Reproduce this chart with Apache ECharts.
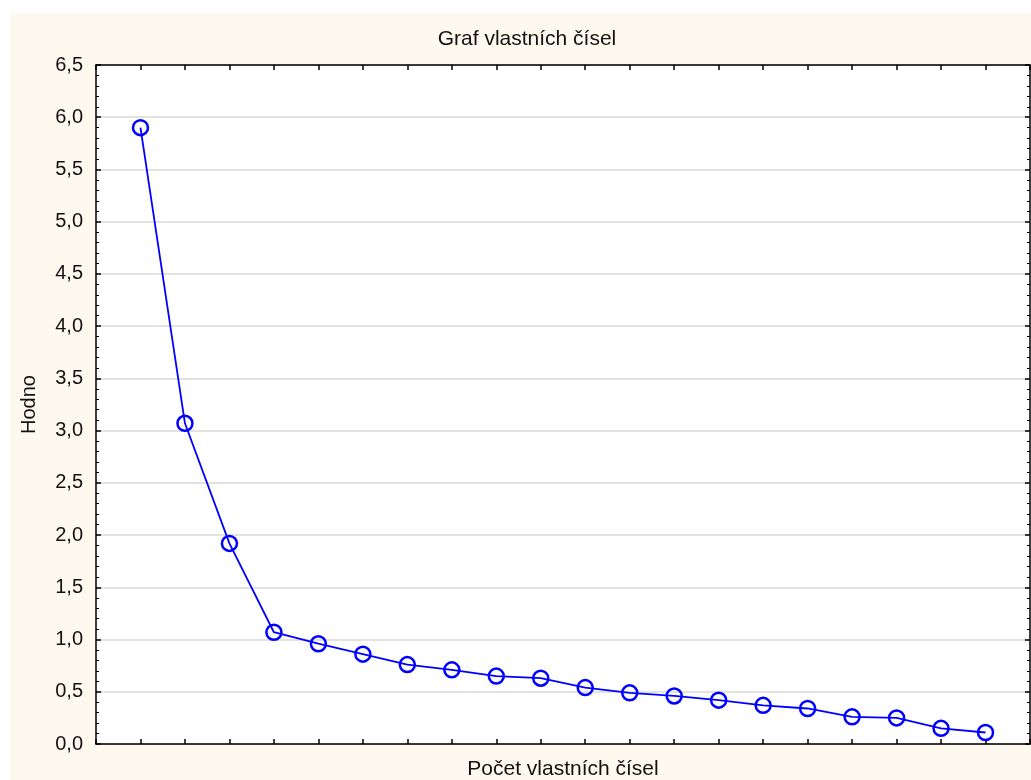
<!DOCTYPE html>
<html>
<head>
<meta charset="utf-8">
<script src="https://cdn.jsdelivr.net/npm/echarts@6/dist/echarts.min.js"></script>
<style>
html,body{margin:0;padding:0;background:#fff;}
#wrap{position:relative;width:1031px;height:780px;background:#fff;}
#cream{position:absolute;left:10px;top:13px;right:0;bottom:0;background:#fdf9ef;}
#plotbg{position:absolute;left:96px;top:65px;width:934px;height:679px;background:#fff;}
#chart{position:absolute;left:0;top:0;width:1031px;height:780px;}
</style>
</head>
<body>
<div id="wrap"><div id="cream"></div><div id="plotbg"></div><div id="chart"></div></div>
<script>
var titleText = 'Graf vlastních čísel';
var xName = 'Počet vlastních čísel';
var yName = 'Hodno';
var counts = [1,2,3,4,5,6,7,8,9,10,11,12,13,14,15,16,17,18,19,20];
var eigenvalues = [5.90,3.07,1.92,1.07,0.96,0.86,0.76,0.71,0.65,0.63,0.54,0.49,0.46,0.42,0.37,0.34,0.26,0.25,0.15,0.11];

var FONT = '"Liberation Sans", Arial, sans-serif';
var chart = echarts.init(document.getElementById('chart'), null, {renderer:'canvas'});
var data = counts.map(function(c,i){return [c, eigenvalues[i]];});
function xAx(pos){
  return {
    type:'value', position:pos, min:0, max:21, interval:1,
    axisLine:{show:true, onZero:false, lineStyle:{color:'#000', width:1.5}},
    axisTick:{show:true, inside:true, length:5, lineStyle:{color:'#000', width:1.5}},
    axisLabel:{show:false}, splitLine:{show:false}
  };
}
function yAx(pos, labels){
  return {
    type:'value', position:pos, min:0, max:6.5, interval:0.5,
    axisLine:{show:true, onZero:false, lineStyle:{color:'#000', width:1.5}},
    axisTick:{show:true, inside:true, length:5, lineStyle:{color:'#000', width:1.5}},
    minorTick:{show:true, splitNumber:5, length:3, lineStyle:{color:'#000', width:1}},
    axisLabel:labels ? {show:true, inside:false, margin:13, fontFamily:FONT, fontSize:20, color:'#111',
       formatter:function(v){return v.toFixed(1).replace('.', ',');}} : {show:false},
    splitLine:{show:labels, lineStyle:{color:'#d9d9d9', width:1.5}}
  };
}
chart.setOption({
  backgroundColor:'transparent',
  animation:false,
  grid:{left:96, top:65, right:1, bottom:36, show:false},
  xAxis:[xAx('bottom'), xAx('top')],
  yAxis:[yAx('left', true), yAx('right', false)],
  graphic:[
    {type:'text', x:527, y:39,
     style:{text:titleText, fontFamily:FONT, fontSize:21, fill:'#111', align:'center', verticalAlign:'middle'}},
    {type:'text', x:29.5, y:404.5, rotation:Math.PI/2,
     style:{text:yName, fontFamily:FONT, fontSize:20, fill:'#111', align:'center', verticalAlign:'middle'}},
    {type:'text', x:563, y:769,
     style:{text:xName, fontFamily:FONT, fontSize:21, fill:'#111', align:'center', verticalAlign:'middle'}}
  ],
  series:[{
    type:'line', data:data, xAxisIndex:0, yAxisIndex:0,
    symbol:'circle', symbolSize:15,
    lineStyle:{color:'#0000ff', width:1.8},
    itemStyle:{color:'rgba(0,0,255,0)', borderColor:'#0000ff', borderWidth:2.5}
  },{
    type:'line', data:[], xAxisIndex:1, yAxisIndex:1, silent:true
  }]
});
</script>
</body>
</html>
